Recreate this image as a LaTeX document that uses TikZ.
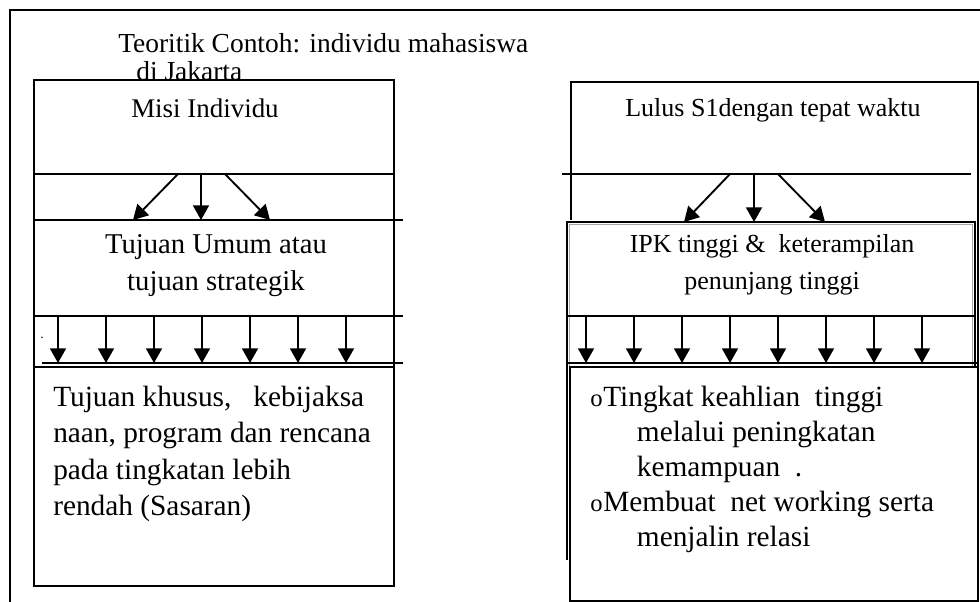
\documentclass[tikz,border=0pt]{standalone}
\usepackage{fontspec}
\setmainfont{Liberation Serif}
\usetikzlibrary{arrows.meta}

\begin{document}
\begin{tikzpicture}[x=0.75pt,y=-0.75pt,
		garis/.style={line width=1.4pt},
		panah/.style={line width=1.4pt,-{Triangle[width=12pt,length=11pt]}},
		judul/.style={inner sep=0pt,font=\fontsize{20.6}{26}\selectfont},
		teksKiri/.style={inner sep=0pt,align=center,font=\fontsize{21.5}{27.75}\selectfont},
		teksKanan/.style={inner sep=0pt,align=center,font=\fontsize{19.5}{27.75}\selectfont},
		teksBawah/.style={inner sep=0pt,align=left,font=\fontsize{22}{27.2}\selectfont}]
				\useasboundingbox (0,0) rectangle (980,602);
				
				% bingkai luar
				\coordinate (F1) at (10,602);
				\coordinate (F2) at (10,10);
				\coordinate (F3) at (980,10);
				\draw[garis] (F1) -- (F2) -- (F3);
				
				\node[judul,anchor=base west] (judul1) at (118,53) {Teoritik Contoh: individu mahasiswa};
				\node[judul,anchor=base west] (judul2) at (136,81) {di Jakarta};
				
				% kolom kiri
				\fill[white] (34,80) rectangle (394,586);
				\draw[garis] (34,80) rectangle (394,586);
				\draw[garis] (34,174) -- (394,174);
				\draw[garis] (34,220) -- (403,220);
				\draw[garis] (34,316) -- (403,316);
				\draw[garis] (42,363) -- (403,363);
				\draw[garis] (34,367) -- (394,367);
				
				\node[teksKiri,anchor=base,font=\fontsize{20.2}{26}\selectfont] (misi) at (205,118) {Misi Individu};
				\node[teksKiri,anchor=north] (umum) at (216,234) {Tujuan Umum atau\\tujuan strategik};
				\node[teksBawah,anchor=north west] (khusus) at (53,386) {Tujuan khusus,\ \ \ kebijaksa\\naan, program dan rencana\\pada tingkatan lebih\\rendah (Sasaran)};
				\node[inner sep=0pt,font=\fontsize{10}{12}\selectfont] (titik) at (42,338) {.};
				
				\coordinate (M1) at (178,174);
				\coordinate (M2) at (201,174);
				\coordinate (M3) at (225,174);
				\coordinate (U1) at (133,220);
				\coordinate (U2) at (201,220);
				\coordinate (U3) at (270,220);
				\draw[panah] (M1) -- (U1);
				\draw[panah] (M2) -- (U2);
				\draw[panah] (M3) -- (U3);
				
				\foreach \i in {0,...,6}{
					\coordinate (KA\i) at ({58+48*\i},316);
					\coordinate (KB\i) at ({58+48*\i},363);
					\draw[panah] (KA\i) -- (KB\i);
				}
				
				% kolom kanan
				\draw[garis] (571,220) -- (571,82) -- (978,82) -- (978,601);
				\draw[garis] (562,174) -- (971,174);
				\draw[garis] (567,560) -- (567,222) -- (975,222) -- (975,560);
				\draw[gray!70,line width=0.6pt] (569.5,558) -- (569.5,224.5) -- (972.5,224.5) -- (972.5,558);
				\draw[garis] (567,316) -- (975,316);
				\draw[garis] (567,363) -- (978,363);
				\fill[white] (570,367) rectangle (978,601);
				\draw[garis] (570,367) rectangle (978,601);
				
				\node[teksKanan,anchor=base] (lulus) at (773,117) {Lulus S1dengan tepat waktu};
				\node[teksKanan,anchor=north] (ipk) at (772,234) {IPK tinggi \&\ \ keterampilan\\penunjang tinggi};
				\node[teksBawah,anchor=north west,font=\fontsize{22}{26.3}\selectfont] (poin) at (590,386) {\makebox[9.8pt][l]{\fontsize{18.5}{18}\selectfont o}Tingkat keahlian\ \ tinggi\\\hspace*{35pt}melalui peningkatan\\\hspace*{35pt}kemampuan\ \ .\\\makebox[9.8pt][l]{\fontsize{18.5}{18}\selectfont o}Membuat\ \ net working serta\\\hspace*{35pt}menjalin relasi};
				
				\coordinate (L1) at (730,174);
				\coordinate (L2) at (754,174);
				\coordinate (L3) at (778,174);
				\coordinate (P1) at (684,222);
				\coordinate (P2) at (754,222);
				\coordinate (P3) at (825,222);
				\draw[panah] (L1) -- (P1);
				\draw[panah] (L2) -- (P2);
				\draw[panah] (L3) -- (P3);
				
				\foreach \i in {0,...,7}{
					\coordinate (NA\i) at ({586+48*\i},316);
					\coordinate (NB\i) at ({586+48*\i},363);
					\draw[panah] (NA\i) -- (NB\i);
				}
			\end{tikzpicture}
\end{document}
